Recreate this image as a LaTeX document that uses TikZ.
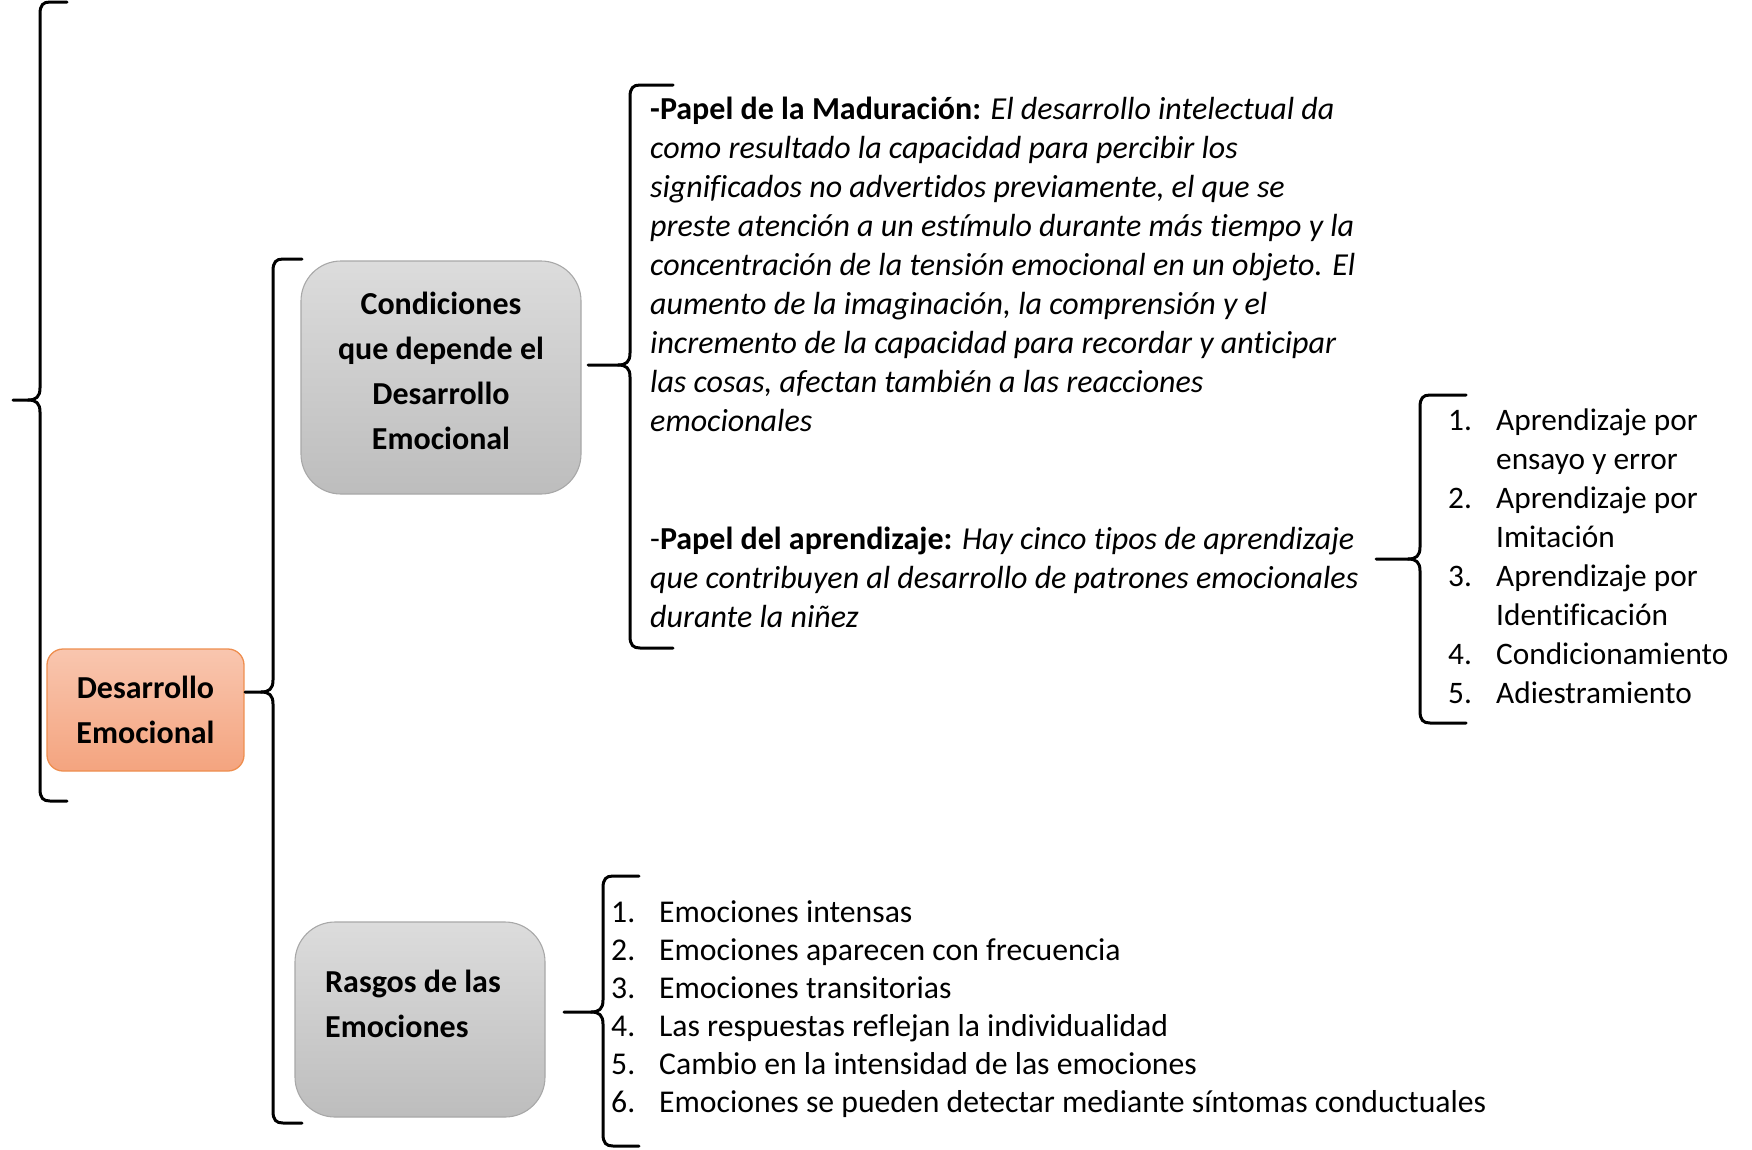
\documentclass[tikz,border=0pt]{standalone}
\usepackage{fontspec}
\setmainfont{Carlito}[Ligatures=NoCommon]
\definecolor{orTop}{HTML}{F9C6AF}
\definecolor{orBot}{HTML}{F4A47F}
\definecolor{orLine}{HTML}{EE8E4F}
\definecolor{gyTop}{HTML}{DCDCDC}
\definecolor{gyBot}{HTML}{BDBDBD}
\definecolor{gyLine}{HTML}{A8A8A8}
\newcommand\drawbrace[6]{%
  \draw[brace] (#6,#2) -- ({#1+10},#2) .. controls ({#1+3},#2) and (#1,{#2+3}) .. (#1,{#2+12})
     -- (#1,{#5-12}) .. controls (#1,{#5-3}) and ({#1-4},#5) .. ({#1-12},#5) -- (#4,#5);
  \draw[brace] (#6,#3) -- ({#1+10},#3) .. controls ({#1+3},#3) and (#1,{#3-3}) .. (#1,{#3-12})
     -- (#1,{#5+12}) .. controls (#1,{#5+3}) and ({#1-4},#5) .. ({#1-12},#5);
}
\begin{document}
\begin{tikzpicture}[x=1pt,y=-1pt,
  brace/.style={line width=3pt, line cap=round, line join=round},
  orbox/.style={draw=orLine, line width=1.3pt, rounded corners=16pt, top color=orTop, bottom color=orBot, inner sep=0pt, align=center, font=\fontsize{32}{45}\selectfont\bfseries},
  gybox/.style={draw=gyLine, line width=1.1pt, rounded corners=40pt, top color=gyTop, bottom color=gyBot, inner sep=0pt},
  boxtxt/.style={inner sep=0pt, align=left, font=\fontsize{32}{45}\selectfont\bfseries},
  txt/.style={inner sep=0pt, align=left, font=\fontsize{32}{39}\selectfont\itshape},
  lst/.style={inner sep=0pt, align=left, font=\fontsize{31.3}{39}\selectfont},
  lstb/.style={inner sep=0pt, align=left, font=\fontsize{31.7}{38}\selectfont}
]
\useasboundingbox (0,0) rectangle (1752,1149);

% boxes
\node[orbox, minimum width=197pt, minimum height=122pt] (des) at (145.5,710) {Desarrollo\\Emocional};
\node[gybox, minimum width=280pt, minimum height=233pt] (cond) at (441,377.5) {};
\node[boxtxt, align=center] (condT) at (441,370.5) {Condiciones\\que depende el\\Desarrollo\\Emocional};
\node[gybox, minimum width=250pt, minimum height=195pt] (ras) at (420,1019.5) {};
\node[boxtxt, anchor=north west] (rasT) at (325,961) {\strut Rasgos de las\\Emociones};

% braces
\drawbrace{40}{2}{801}{13}{400}{67}
\drawbrace{273}{259}{1123}{245}{692}{302}
\drawbrace{630}{85}{648}{588}{365}{673}
\drawbrace{1420}{395}{723}{1376}{559}{1466}
\drawbrace{603}{876}{1146}{564}{1012}{639}

% text blocks
\node[txt, anchor=north west] (mad) at (650,92) {\strut\textbf{\upshape -Papel de la Maduración:} El desarrollo intelectual da\\
como resultado la capacidad para percibir los\\
significados no advertidos previamente, el que se\\
preste atención a un estímulo durante más tiempo y la\\
concentración de la tensión emocional en un objeto. El\\
aumento de la imaginación, la comprensión y el\\
incremento de la capacidad para recordar y anticipar\\
las cosas, afectan también a las reacciones\\
emocionales};

\node[txt, anchor=north west] (apr) at (650,522) {\strut{\upshape -\textbf{Papel del aprendizaje:}} Hay cinco tipos de aprendizaje\\
que contribuyen al desarrollo de patrones emocionales\\
durante la niñez};

\node[lst, anchor=north west] (tipos) at (1448,403) {\strut\makebox[48pt][l]{1.}Aprendizaje por\\
\hspace*{48pt}ensayo y error\\
\makebox[48pt][l]{2.}Aprendizaje por\\
\hspace*{48pt}Imitación\\
\makebox[48pt][l]{3.}Aprendizaje por\\
\hspace*{48pt}Identificación\\
\makebox[48pt][l]{4.}Condicionamiento\\
\makebox[48pt][l]{5.}Adiestramiento};

\node[lstb, anchor=north west] (rasL) at (611,896) {\strut\makebox[48pt][l]{1.}Emociones intensas\\
\makebox[48pt][l]{2.}Emociones aparecen con frecuencia\\
\makebox[48pt][l]{3.}Emociones transitorias\\
\makebox[48pt][l]{4.}Las respuestas reflejan la individualidad\\
\makebox[48pt][l]{5.}Cambio en la intensidad de las emociones\\
\makebox[48pt][l]{6.}Emociones se pueden detectar mediante síntomas conductuales};
\end{tikzpicture}
\end{document}
